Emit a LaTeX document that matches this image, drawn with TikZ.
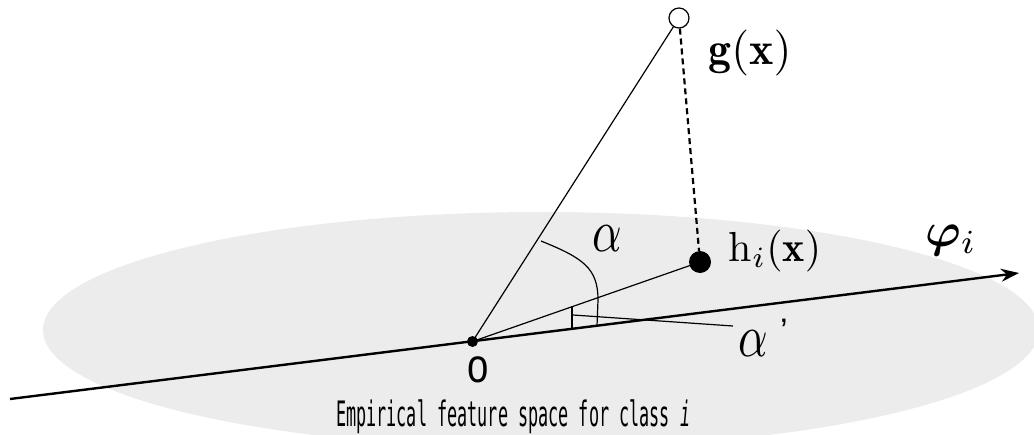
\documentclass[tikz,border=0pt]{standalone}
\usepackage{amsmath,bm}
\usepackage{fontspec}
\newfontfamily\gothmono{DejaVu Sans Mono}
\newfontfamily\labsans{Liberation Sans}
\usetikzlibrary{arrows.meta}
\definecolor{planegray}{HTML}{ECECEC}
\tikzset{
  thinline/.style={line width=1.2pt, black},
  axisline/.style={line width=2.4pt, black},
  lab/.style={inner sep=0pt},
}
\newcommand{\bigmath}[2][4.2]{\scalebox{#1}{$#2$}}
\newcommand{\alphalab}{\scalebox{4.6}[6]{$\alpha$}}
\begin{document}
\begin{tikzpicture}[x=1pt,y=-1pt]
\useasboundingbox (0,0) rectangle (1034,434);
\begin{scope}
\clip (0,0) rectangle (1034,434);
\fill[planegray] (541,330) ellipse [x radius=498, y radius=118];
\end{scope}
% points
\coordinate (axL) at (10,399);
\coordinate (axR) at (1019,273);
\node[circle, fill=black, inner sep=0pt, minimum size=11pt] (O) at (472.5,341.5) {};
\node[circle, draw=black, line width=1.2pt, fill=white, inner sep=0pt, minimum size=20pt] (G) at (679,18) {};
\node[circle, fill=black, inner sep=0pt, minimum size=22pt] (H) at (700,262) {};
% axis
\draw[axisline, -{Stealth[length=18pt,width=13pt]}] (axL) -- (axR);
% rays
\draw[thinline] (O.center) -- (G);
\draw[thinline] (O.center) -- (H.center);
\draw[line width=2.2pt, dash pattern=on 6pt off 4pt] (G) -- (H);
% angle alpha arc
\coordinate (a1) at (541,241);
\coordinate (a2) at (598,300);
\coordinate (a3) at (597,326);
\draw[thinline] (a1) .. controls (583,258) and (598,268) .. (a2) -- (a3);
% angle alpha' tick and pointer
\coordinate (t1) at (572,306);
\coordinate (t2) at (572,328);
\coordinate (p1) at (573,315);
\coordinate (p2) at (733,326);
\draw[thinline] (t1) -- (t2);
\draw[thinline] (p1) -- (p2);
% labels
\node[lab] (lg) at (750,53) {\bigmath[4.6]{\mathbf{g}(\mathbf{x})}};
\node[lab] (lh) at (775,251) {\bigmath{\mathrm{h}_i(\mathbf{x})}};
\node[lab] (la) at (607,239) {\alphalab};
\node[lab] (lap) at (753,344) {\alphalab};
\node[lab] (lpr) at (784,331) {\labsans\fontsize{34}{36}\selectfont ’};
\node[lab] (lphi) at (951,240) {\bigmath[4.8]{\bm{\varphi}_i}};
\node[inner sep=0pt] (lo) at (478,370) {\scalebox{0.8}[1]{\labsans\fontsize{48}{50}\selectfont o}};
\node[inner sep=0pt, anchor=base west] (cap) at (336,426) {\scalebox{0.48}[1]{\gothmono\fontsize{35}{38}\selectfont Empirical feature space for class \textit{i}}};
\end{tikzpicture}
\end{document}
